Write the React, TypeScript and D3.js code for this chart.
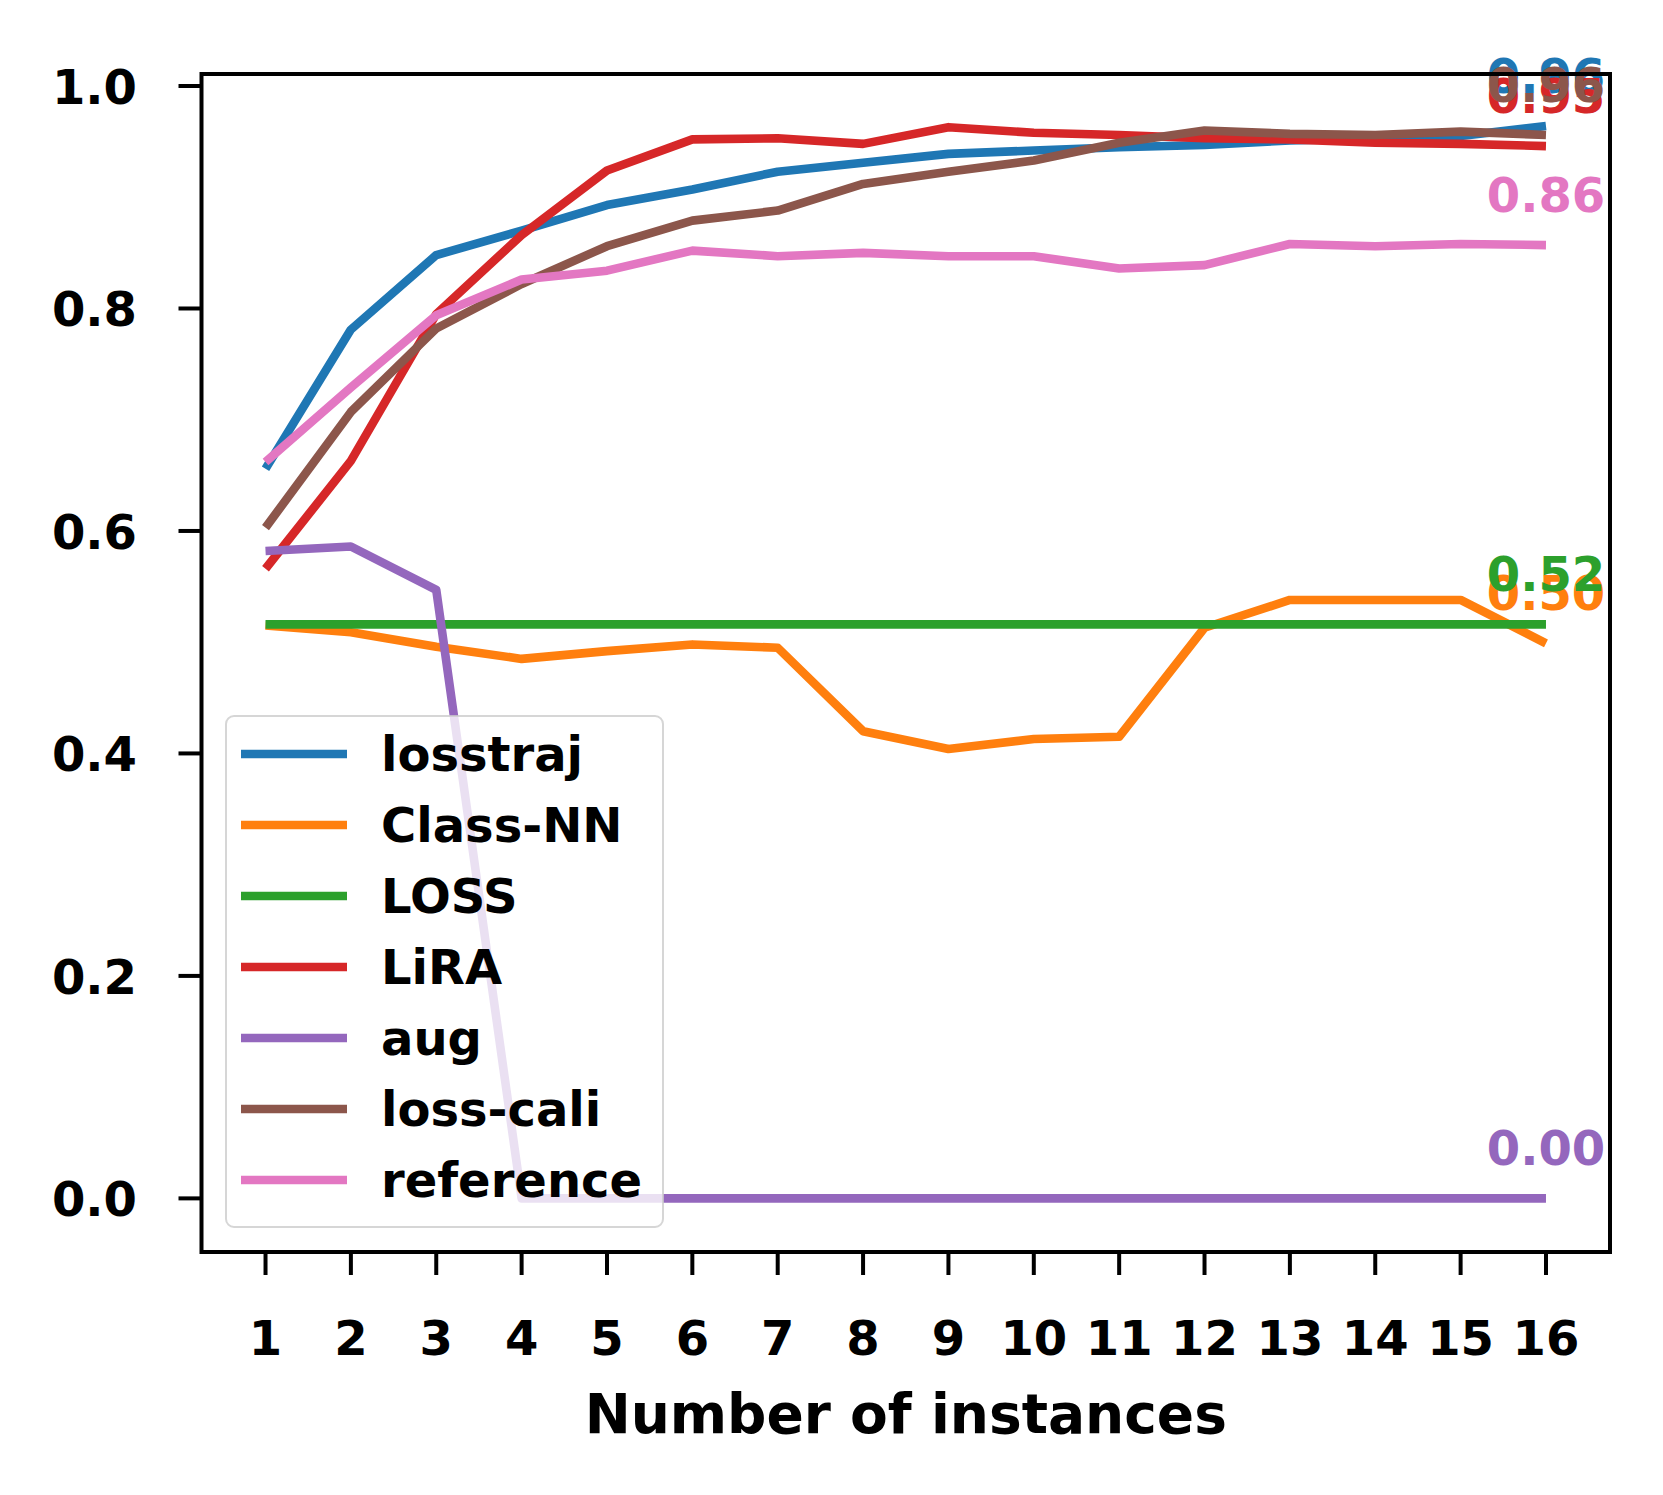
import React from "react";
import * as d3 from "d3";

const instances = [1, 2, 3, 4, 5, 6, 7, 8, 9, 10, 11, 12, 13, 14, 15, 16];

const seriesNames = ["losstraj", "Class-NN", "LOSS", "LiRA", "aug", "loss-cali", "reference"];
const seriesColors = ["#1f77b4", "#ff7f0e", "#2ca02c", "#d62728", "#9467bd", "#8c564b", "#e377c2"];

const losstraj = [0.656, 0.781, 0.848, 0.870, 0.893, 0.907, 0.923, 0.931, 0.939, 0.942, 0.945, 0.947, 0.951, 0.953, 0.955, 0.964];
const classNN = [0.515, 0.509, 0.496, 0.485, 0.492, 0.498, 0.495, 0.420, 0.404, 0.413, 0.415, 0.513, 0.538, 0.538, 0.538, 0.499];
const lossAttack = [0.516, 0.516, 0.516, 0.516, 0.516, 0.516, 0.516, 0.516, 0.516, 0.516, 0.516, 0.516, 0.516, 0.516, 0.516, 0.516];
const lira = [0.566, 0.663, 0.795, 0.866, 0.924, 0.952, 0.953, 0.948, 0.963, 0.958, 0.956, 0.953, 0.952, 0.949, 0.948, 0.946];
const aug = [0.582, 0.586, 0.547, 0, 0, 0, 0, 0, 0, 0, 0, 0, 0, 0, 0, 0];
const lossCali = [0.603, 0.707, 0.782, 0.822, 0.856, 0.879, 0.888, 0.912, 0.923, 0.933, 0.949, 0.960, 0.957, 0.956, 0.959, 0.956];
const reference = [0.662, 0.729, 0.794, 0.826, 0.834, 0.852, 0.847, 0.850, 0.847, 0.847, 0.836, 0.839, 0.858, 0.856, 0.858, 0.857];

const seriesValues = [losstraj, classNN, lossAttack, lira, aug, lossCali, reference];

const yTicks = [0.0, 0.2, 0.4, 0.6, 0.8, 1.0];
const xLabel = "Number of instances";

const FONT = "'DejaVu Sans', sans-serif";

export default function App() {
  const W = 1663;
  const H = 1495;
  const left = 201.5;
  const right = 1610;
  const top = 74;
  const bottom = 1252;

  const x = d3.scaleLinear().domain([0.25, 16.75]).range([left, right]);
  const y = d3.scaleLinear().domain([-0.0482, 1.0108]).range([bottom, top]);

  const line = d3
    .line<number>()
    .x((_, i) => x(instances[i]))
    .y((d) => y(d));

  const lw = 8.6;
  const fs = 48;

  const legendX = 226;
  const legendY = 716;
  const legendW = 437;
  const legendH = 511;
  const legendRow0 = 754;
  const legendStep = 71;

  return (
    <svg
      width={W}
      height={H}
      viewBox={`0 0 ${W} ${H}`}
      style={{ position: "absolute", left: 0, top: 0, display: "block", background: "#fff" }}
      fontFamily={FONT}
      fontWeight="bold"
    >
      <rect x={0} y={0} width={W} height={H} fill="#fff" />
      {seriesValues.map((vals, i) => (
        <path
          key={seriesNames[i]}
          d={line(vals) || ""}
          fill="none"
          stroke={seriesColors[i]}
          strokeWidth={lw}
          strokeLinejoin="round"
          strokeLinecap="butt"
        />
      ))}
      {seriesValues.map((vals, i) => {
        const last = vals[vals.length - 1];
        return (
          <text
            key={"lbl" + i}
            x={x(instances[instances.length - 1])}
            y={y(last + 0.03)}
            fill={seriesColors[i]}
            fontSize={fs}
            textAnchor="middle"
          >
            {last.toFixed(2)}
          </text>
        );
      })}
      <rect x={left} y={top} width={right - left} height={bottom - top} fill="none" stroke="#000" strokeWidth={4} />
      {yTicks.map((t) => (
        <g key={"yt" + t}>
          <line x1={left - 23} x2={left} y1={y(t)} y2={y(t)} stroke="#000" strokeWidth={4} />
          <text x={137} y={y(t) + 18} fontSize={fs} textAnchor="end" fill="#000">
            {t.toFixed(1)}
          </text>
        </g>
      ))}
      {instances.map((t) => (
        <g key={"xt" + t}>
          <line x1={x(t)} x2={x(t)} y1={bottom} y2={bottom + 23} stroke="#000" strokeWidth={4} />
          <text x={x(t)} y={1355} fontSize={fs} textAnchor="middle" fill="#000">
            {t}
          </text>
        </g>
      ))}
      <text x={(left + right) / 2} y={1433} fontSize={55} textAnchor="middle" fill="#000">
        {xLabel}
      </text>
      <rect
        x={legendX}
        y={legendY}
        width={legendW}
        height={legendH}
        rx={8}
        ry={8}
        fill="#fff"
        fillOpacity={0.8}
        stroke="#cccccc"
        strokeOpacity={0.8}
        strokeWidth={2}
      />
      {seriesNames.map((name, i) => {
        const cy = legendRow0 + i * legendStep;
        return (
          <g key={"lg" + name}>
            <line x1={241} x2={347} y1={cy} y2={cy} stroke={seriesColors[i]} strokeWidth={lw} />
            <text x={381} y={cy + 17} fontSize={fs} fill="#000">
              {name}
            </text>
          </g>
        );
      })}
    </svg>
  );
}
